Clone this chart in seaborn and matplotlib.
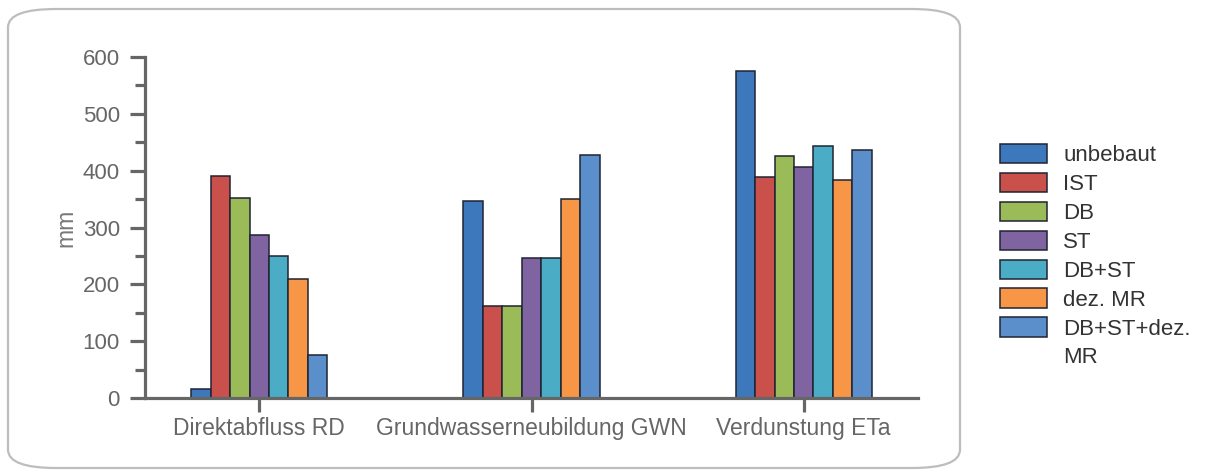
import pandas as pd
import matplotlib.pyplot as plt
import seaborn as sns
from matplotlib.patches import FancyBboxPatch
from matplotlib.ticker import MultipleLocator

# ─────────────────────────────────────────
# Data (mm per year)
# ─────────────────────────────────────────
categories = ["Direktabfluss RD", "Grundwasserneubildung GWN", "Verdunstung ETa"]
scenarios = ["unbebaut", "IST", "DB", "ST", "DB+ST", "dez. MR", "DB+ST+dez. MR"]

unbebaut = [15, 347, 576]
ist = [391, 161, 388]
db = [352, 161, 426]
st = [287, 246, 406]
db_st = [250, 246, 443]
dez_mr = [210, 350, 383]
db_st_dez_mr = [76, 428, 436]

colors = ["#3c78bb", "#c9504b", "#9bbb59", "#8064a2", "#4bacc6", "#f79646", "#5b8fcc"]

series = [unbebaut, ist, db, st, db_st, dez_mr, db_st_dez_mr]
rows = []
for name, vals in zip(scenarios, series):
    for cat, v in zip(categories, vals):
        rows.append({"Kategorie": cat, "Szenario": name, "mm": v})
df = pd.DataFrame(rows)

# ─────────────────────────────────────────
# Plot
# ─────────────────────────────────────────
sns.set_style("white")
plt.rcParams["font.family"] = ["Liberation Sans", "DejaVu Sans"]

grey = "#666666"
fig = plt.figure(figsize=(12.05, 4.70), dpi=100)

# rounded frame around the chart (behind the axes)
frame = FancyBboxPatch((8 / 1205, 2 / 470), 952 / 1205, 459 / 470,
                       boxstyle="round,pad=0,rounding_size=0.04",
                       transform=fig.transFigure, facecolor="white",
                       edgecolor="#bdbdbd", linewidth=1.6,
                       mutation_aspect=470 / 1205 * 2.5, zorder=-10)
fig.patches.append(frame)

ax = fig.add_axes([145 / 1205, 72 / 470, 773 / 1205, 341 / 470])
ax.set_facecolor("none")
ax.set_zorder(5)

sns.barplot(data=df, x="Kategorie", y="mm", hue="Szenario",
            order=categories, hue_order=scenarios, palette=colors,
            saturation=1, width=0.5, edgecolor="#1f2433", linewidth=1.1, ax=ax)

ax.set_xlim(-0.42, 2.42)
ax.set_ylim(0, 600)
ax.yaxis.set_major_locator(MultipleLocator(100))
ax.yaxis.set_minor_locator(MultipleLocator(50))

for side in ["top", "right"]:
    ax.spines[side].set_visible(False)
for side in ["left", "bottom"]:
    ax.spines[side].set_color(grey)
    ax.spines[side].set_linewidth(2.3)

ax.tick_params(axis="y", which="major", length=11, width=2.3, color=grey,
               labelsize=16, labelcolor=grey, pad=7, left=True)
ax.tick_params(axis="y", which="minor", length=7, width=2.3, color=grey, left=True)
ax.tick_params(axis="x", which="major", length=10, width=2.3, color=grey,
               labelsize=16.5, labelcolor=grey, pad=4, bottom=True)

ax.set_xlabel("")
ax.set_ylabel("mm", fontsize=16.5, color="#777777", labelpad=4)

handles, labels = ax.get_legend_handles_labels()
ax.get_legend().remove()
labels = ["DB+ST+dez." if l == "DB+ST+dez. MR" else l for l in labels]
leg = fig.legend(handles, labels, loc="upper left",
                 bbox_to_anchor=(1000 / 1205, 1 - 144 / 470),
                 frameon=False, fontsize=16, labelcolor="#333333",
                 handlelength=2.1, handleheight=0.95, handletextpad=0.75,
                 labelspacing=0.3, borderpad=0, borderaxespad=0)

# wrapped second line of the last legend entry
fig.canvas.draw()
last = leg.get_texts()[-1].get_window_extent()
fig.text(last.x0 / 1205, (last.y0 - 28) / 470, "MR", fontsize=16,
         color="#333333", ha="left", va="bottom")

plt.savefig("out.png", dpi=100)
